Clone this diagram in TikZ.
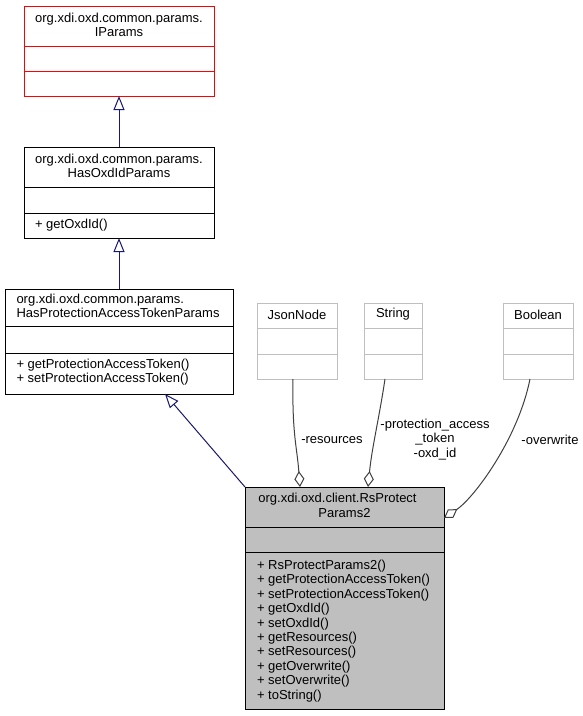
\documentclass[tikz,border=0pt]{standalone}
\usepackage{fontspec}
\setmainfont{Liberation Sans}
\usetikzlibrary{arrows.meta,calc}
\definecolor{edgeblue}{RGB}{25,25,112}
\definecolor{compgray}{RGB}{64,64,64}
\definecolor{boxgray}{RGB}{191,191,191}
\begin{document}
\begin{tikzpicture}[x=1pt,y=-1pt,
  every node/.style={font=\fontsize{13}{14.4}\selectfont, inner sep=0pt, outer sep=0pt},
  cls/.style={draw, line width=1pt, anchor=north west},
  ltxt/.style={align=left, anchor=west},
  ctxt/.style={align=center},
  inh/.style={draw=edgeblue, line width=1pt, -{Triangle[open, length=14pt, width=11pt, fill=white]}},
  comp/.style={draw=compgray, line width=1pt, -{Diamond[open, length=16pt, width=10pt, fill=white]}},
  divider/.style={line width=1pt},
]
\useasboundingbox (0,0) rectangle (583,716);

% IParams
\node[cls, draw=red, minimum width=190pt, minimum height=90pt] (ip) at (24,6) {};
\draw[divider, red] (24,46) -- (214,46) (24,71) -- (214,71);
\node[ctxt] (ipt) at (119,25) {org.xdi.oxd.common.params.\\IParams};

% HasOxdIdParams
\node[cls, minimum width=190pt, minimum height=91pt] (hox) at (24,147) {};
\draw[divider] (24,187) -- (214,187) (24,213) -- (214,213);
\node[ctxt] (hoxt) at (119,166) {org.xdi.oxd.common.params.\\HasOxdIdParams};
\node[ltxt] (hoxm) at (35,225) {+ getOxdId()};

% HasProtectionAccessTokenParams
\node[cls, minimum width=228pt, minimum height=105pt] (hpa) at (5,289) {};
\draw[divider] (5,326) -- (233,326) (5,353) -- (233,353);
\node[ltxt] (hpat) at (16.5,306) {org.xdi.oxd.common.params.\\HasProtectionAccessTokenParams};
\node[ltxt] (hpam) at (16.5,372) {+ getProtectionAccessToken()\\+ setProtectionAccessToken()};

% JsonNode
\node[cls, draw=boxgray, minimum width=80pt, minimum height=76pt] (json) at (257,303) {};
\draw[divider, boxgray] (257,328) -- (337,328) (257,354) -- (337,354);
\node (jsont) at (297,314.5) {JsonNode};

% String
\node[cls, draw=boxgray, minimum width=58pt, minimum height=76pt] (str) at (364,303) {};
\draw[divider, boxgray] (364,328) -- (422,328) (364,354) -- (422,354);
\node (strt) at (393,314.5) {String};

% Boolean
\node[cls, draw=boxgray, minimum width=70pt, minimum height=76pt] (bool) at (503,303) {};
\draw[divider, boxgray] (503,328) -- (573,328) (503,354) -- (573,354);
\node (boolt) at (538,314.5) {Boolean};

% RsProtectParams2
\node[cls, fill=boxgray, minimum width=199pt, minimum height=222pt] (rs) at (245,487) {};
\draw[divider] (245,527) -- (444,527) (245,552) -- (444,552);
\node[ctxt] (rst) at (344.5,505.5) {org.xdi.oxd.client.RsProtect\hspace*{14pt}\\Params2};
\node[ltxt] (rsm) at (257,631) {+ RsProtectParams2()\\+ getProtectionAccessToken()\\+ setProtectionAccessToken()\\+ getOxdId()\\+ setOxdId()\\+ getResources()\\+ setResources()\\+ getOverwrite()\\+ setOverwrite()\\+ toString()};

% inheritance
\draw[inh] (hox.north) -- (ip.south);
\draw[inh] (hpa.north) -- (hox.south);
\draw[inh] (rs.north west) -- ($(hpa.south west)+(160,0)$);

% composition
\draw[comp] ($(json.south west)+(36,0)$) .. controls +(-1,55) and +(-3,-40) .. ($(rs.north west)+(55,0)$);
\draw[comp] ($(str.south west)+(21,0)$) .. controls +(-6,40) and +(4,-40) .. ($(rs.north west)+(123,0)$);
\draw[comp] ($(bool.south west)+(27,0)$) .. controls +(-12,60) and +(30,-20) .. ($(rs.north east)+(0,31)$);

% labels
\node (lres) at (332,440) {-resources};
\node[ctxt] (lpat) at (435,439.5) {-protection\_access\\\_token\\-oxd\_id};
\node (lover) at (550,440) {-overwrite};
\end{tikzpicture}
\end{document}
